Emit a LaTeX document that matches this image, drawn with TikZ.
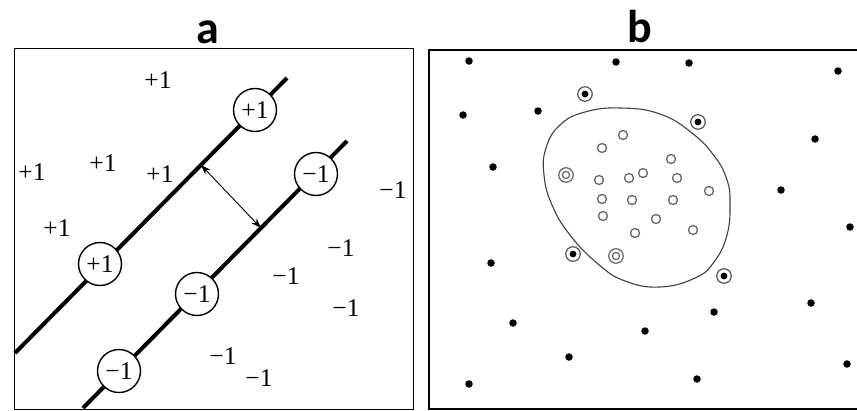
\documentclass[tikz,border=0pt]{standalone}
\usepackage{fontspec}
\setmainfont{Liberation Serif}
\newfontfamily\titlefont{Carlito}
\usetikzlibrary{arrows.meta}
\begin{document}
\begin{tikzpicture}[x=1pt,y=-1pt,
  lbl/.style={font=\fontsize{25.5}{25.5}\selectfont, inner sep=0pt},
  cnode/.style={circle, draw, line width=1.4pt, fill=white, minimum size=43pt, inner sep=0pt, font=\fontsize{25.5}{25.5}\selectfont},
  sepline/.style={line width=4pt},
  panelframe/.style={line width=1pt},
  ttl/.style={font=\titlefont\bfseries\fontsize{46}{46}\selectfont, anchor=base, inner sep=0pt},
  margarrow/.style={line width=0.9pt, {Stealth[length=10pt,width=7pt]}-{Stealth[length=10pt,width=7pt]}},
  dot/.style={circle, fill=black, minimum size=7.5pt, inner sep=0pt},
  sv/.style={circle, draw=black!65, line width=1.2pt, minimum size=14.5pt, inner sep=0pt,
    path picture={\fill[black] (path picture bounding box.center) circle (3.4pt);}},
  osv/.style={circle, draw=black!60, line width=1.2pt, minimum size=14.5pt, inner sep=0pt,
    path picture={\draw[black!60, line width=1.2pt] (path picture bounding box.center) circle (3.6pt);}},
  odot/.style={circle, draw=black!60, line width=1.3pt, minimum size=9pt, inner sep=0pt},
  boundary/.style={draw=black!75, line width=1.1pt}
]
\useasboundingbox (0,0) rectangle (857,410);
\fill[white] (0,0) rectangle (857,410);

% titles
\node[ttl] (ta) at (208,43) {a};
\node[ttl] (tb) at (640,42) {b};

% ---------- panel a ----------
\draw[panelframe] (14,48) rectangle (413,409);
\coordinate (u1) at (15,353);
\coordinate (u2) at (287,78);
\coordinate (l1) at (83,408);
\coordinate (l2) at (347,141);
\draw[sepline] (u1) -- (u2);
\draw[sepline] (l1) -- (l2);
\coordinate (ma) at (201,165);
\coordinate (mb) at (261,228);
\draw[margarrow] (ma) -- (mb);

\node[cnode] (cp1) at (255,110) {+1};
\node[cnode] (cp2) at (100,264) {+1};
\node[cnode] (cn1) at (316,174) {−1};
\node[cnode] (cn2) at (197,294) {−1};
\node[cnode] (cn3) at (119,371) {−1};

\node[lbl] (p1) at (158,80) {+1};
\node[lbl] (p2) at (32,172) {+1};
\node[lbl] (p3) at (103,163) {+1};
\node[lbl] (p4) at (160,174) {+1};
\node[lbl] (p5) at (57,228) {+1};
\node[lbl] (n1) at (393,190) {−1};
\node[lbl] (n2) at (341,248) {−1};
\node[lbl] (n3) at (286,276) {−1};
\node[lbl] (n4) at (346,308) {−1};
\node[lbl] (n5) at (223,356) {−1};
\node[lbl] (n6) at (259,378) {−1};

% ---------- panel b ----------
\draw[panelframe, line width=1.5pt] (858,50) -- (429,50) -- (429,409) -- (858,409);

\draw[boundary] plot[smooth cycle, tension=0.75] coordinates {
  (621,108) (660,114) (692,133) (715,157) (727,180) (730,203) (727,235)
  (714,262) (695,278) (660,287) (625,281) (598,264) (570,235)
  (552,205) (544,175) (546,148) (560,125) (585,112)};

\foreach \x/\y [count=\i] in {469/61, 616/62, 689/63, 838/71, 463/115, 538/111,
  815/139, 493/167, 781/190, 850/227, 491/263, 811/303, 714/312, 513/323,
  645/331, 569/357, 847/364, 697/379, 469/384}
  \node[dot] (d\i) at (\x,\y) {};

\foreach \x/\y [count=\i] in {585/94, 698/122, 573/254, 724/276}
  \node[sv] (s\i) at (\x,\y) {};

\node[osv] (os1) at (566,175) {};
\node[osv] (os2) at (616,256) {};

\foreach \x/\y [count=\i] in {623/135, 602/148, 671/159, 643/173, 629/178,
  599/180, 677/178, 709/191, 602/199, 632/200, 673/200, 603/216, 656/219,
  635/233, 693/230}
  \node[odot] (o\i) at (\x,\y) {};
\end{tikzpicture}
\end{document}
